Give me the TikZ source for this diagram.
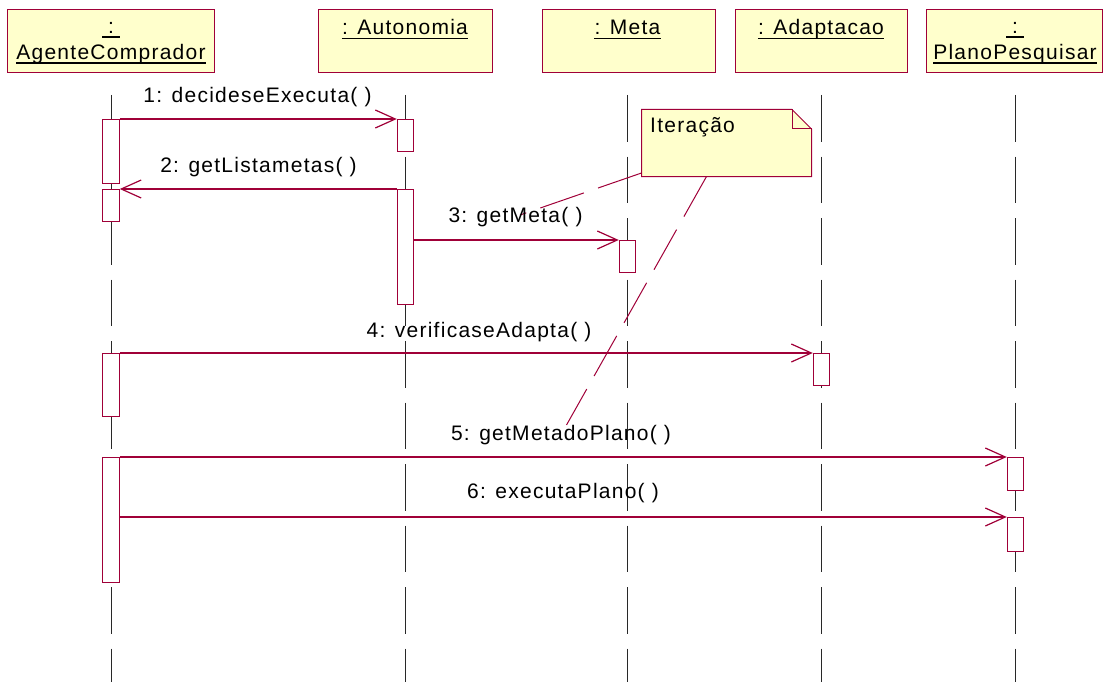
\documentclass[tikz,border=0pt]{standalone}
\usepackage{fontspec}
\newfontfamily\rosefont[LetterSpace=6]{Liberation Sans}
\usetikzlibrary{arrows.meta}
\definecolor{umlred}{RGB}{160,0,56}
\definecolor{umlfill}{RGB}{255,255,204}
\definecolor{lifegray}{RGB}{40,40,40}
\begin{document}
\begin{tikzpicture}[x=1pt,y=-1pt,
  every node/.style={font={\rosefont\fontsize{21}{25}\selectfont}},
  header/.style={draw=umlred, fill=umlfill, line width=1pt, inner sep=0pt, minimum height=63pt},
  txt/.style={anchor=base, inner sep=0pt, text=black},
  uline/.style={black, line width=1.2pt},
  lifeline/.style={draw=lifegray, line width=1pt, dash pattern=on 46.5pt off 15pt},
  activation/.style={draw=umlred, fill=white, line width=1pt, inner sep=0pt, minimum width=16.5pt, anchor=north},
  msg/.style={draw=umlred, line width=1.2pt, -{Straight Barb[length=20pt, width=18pt, line width=1.2pt]}},
  noteline/.style={draw=umlred, line width=1pt, dash pattern=on 46pt off 15pt},
  notebox/.style={draw=umlred, fill=umlfill, line width=1pt, line join=miter}]
\useasboundingbox (0,0) rectangle (1105,682);

% lifelines
\draw[lifeline] (111,95) -- (111,682);
\draw[lifeline] (405.5,95) -- (405.5,682);
\draw[lifeline] (627.5,95) -- (627.5,682);
\draw[lifeline] (821,95) -- (821,682);
\draw[lifeline] (1015.5,95) -- (1015.5,682);

% note anchor lines
\coordinate (noteL) at (641.5,173);
\coordinate (noteB) at (706.5,176.5);
\coordinate (endA) at (520,215);
\coordinate (endB) at (566.5,425);
\draw[noteline] (noteL) -- (endA);
\draw[noteline] (noteB) -- (endB);

% activation bars
\node[activation, minimum height=64pt] (ac1) at (111,119) {};
\node[activation, minimum height=32pt] (ac2) at (111,189) {};
\node[activation, minimum height=63pt] (ac3) at (111,353) {};
\node[activation, minimum height=125pt] (ac4) at (111,457) {};
\node[activation, minimum height=32pt] (au1) at (405.5,119) {};
\node[activation, minimum height=115pt] (au2) at (405.5,189) {};
\node[activation, minimum height=32pt] (me1) at (627.5,240) {};
\node[activation, minimum height=32pt] (ad1) at (821.5,353) {};
\node[activation, minimum height=33pt] (pl1) at (1015.5,457) {};
\node[activation, minimum height=34pt] (pl2) at (1015.5,517) {};

% messages
\draw[msg] (ac1.north east) -- (au1.north west);
\draw[msg] (au2.north west) -- (ac2.north east);
\draw[msg] (au2.east |- me1.north) -- (me1.north west);
\draw[msg] (ac3.north east) -- (ad1.north west);
\draw[msg] (ac4.north east) -- (pl1.north west);
\draw[msg] (ac4.east |- pl2.north) -- (pl2.north west);

% message labels
\node[txt] (m1) at (257.5,103) {1: decideseExecuta( )};
\node[txt] (m2) at (258.5,172) {2: getListametas( )};
\node[txt] (m3) at (515.5,222) {3: getMeta( )};
\node[txt] (m4) at (479,337) {4: verificaseAdapta( )};
\node[txt] (m5) at (561,440) {5: getMetadoPlano( )};
\node[txt] (m6) at (563,498) {6: executaPlano( )};

% note
\draw[notebox] (641.5,109.5) -- (792,109.5) -- (811.5,129) -- (811.5,176.5) -- (641.5,176.5) -- cycle;
\draw[draw=umlred, line width=1pt] (792,109.5) -- (792,129) -- (811.5,129);
\node[txt, anchor=base west] (iter) at (650,132) {Iteração};

% object headers
\node[header, minimum width=207pt] (hAC) at (110.5,41.5) {};
\node[header, minimum width=174pt] (hAU) at (405,41.5) {};
\node[header, minimum width=173pt] (hME) at (628.5,41.5) {};
\node[header, minimum width=172pt] (hAD) at (821,41.5) {};
\node[header, minimum width=176pt] (hPL) at (1014,41.5) {};

\node[txt, minimum width=17pt] (tACa) at (111,33.5) {:};
\node[txt] (tACb) at (111,59.5) {AgenteComprador};
\node[txt] (tAU) at (405,35) {: Autonomia};
\node[txt] (tME) at (627.5,35) {: Meta};
\node[txt] (tAD) at (821,35) {: Adaptacao};
\node[txt, minimum width=17pt] (tPLa) at (1015,33.5) {:};
\node[txt] (tPLb) at (1015,59.5) {PlanoPesquisar};

\foreach \t in {tACa,tACb,tAU,tME,tAD,tPLa,tPLb}
  \draw[uline] ([yshift=-3.5pt]\t.base west) -- ([yshift=-3.5pt]\t.base east);
\end{tikzpicture}
\end{document}
